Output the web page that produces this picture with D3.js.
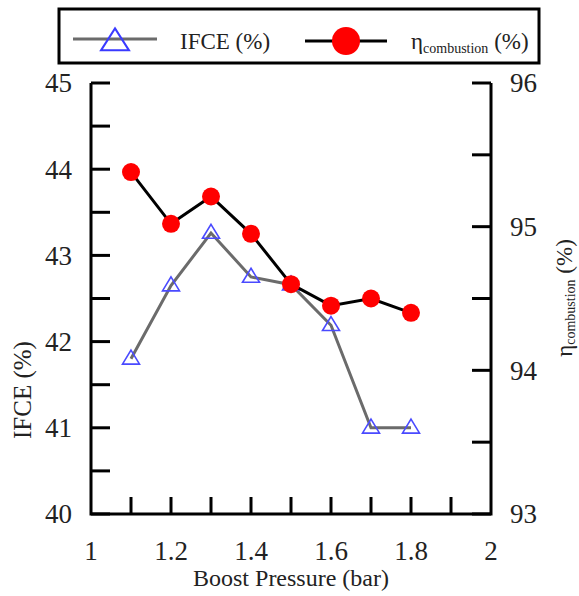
<!DOCTYPE html>
<html>
<head>
<meta charset="utf-8">
<script src="https://cdn.jsdelivr.net/npm/d3@7"></script>
<style>
  html, body { margin: 0; padding: 0; background: #fff; }
  svg, svg text { font-family: "Times New Roman", "Liberation Serif", "DejaVu Serif", serif; }
</style>
</head>
<body>
<svg id="chart" width="579" height="596"></svg>
<script>
// Boost pressure sweep (bar)
const boostPressure = [1.1, 1.2, 1.3, 1.4, 1.5, 1.6, 1.7, 1.8];
// Indicated fuel conversion efficiency (%), left axis
const ifce = [41.8, 42.65, 43.26, 42.75, 42.66, 42.19, 41.0, 41.0];
// Combustion efficiency (%), right axis
const etaCombustion = [95.38, 95.02, 95.21, 94.95, 94.6, 94.45, 94.5, 94.4];

const xTickLabels = [1, 1.2, 1.4, 1.6, 1.8, 2];
const xMinorTicks = [1.1, 1.2, 1.3, 1.4, 1.5, 1.6, 1.7, 1.8, 1.9];
const leftTicks = [40, 40.5, 41, 41.5, 42, 42.5, 43, 43.5, 44, 44.5, 45];
const leftLabels = [40, 41, 42, 43, 44, 45];
const rightTicks = [93, 93.5, 94, 94.5, 95, 95.5, 96];
const rightLabels = [93, 94, 95, 96];

const FONT = "'Liberation Serif', 'Times New Roman', serif";
const svg = d3.select("#chart").attr("font-family", FONT);
const plotLeft = 91, plotRight = 491, plotTop = 83, plotBottom = 514;

const x = d3.scaleLinear().domain([1, 2]).range([plotLeft, plotRight]);
const yL = d3.scaleLinear().domain([40, 45]).range([plotBottom, plotTop]);
const yR = d3.scaleLinear().domain([93, 96]).range([plotBottom, plotTop]);

// Axes frame: left, bottom, right (no top line)
svg.append("path")
  .attr("d", `M${plotLeft},${plotTop}V${plotBottom}H${plotRight}V${plotTop}`)
  .attr("fill", "none").attr("stroke", "#000").attr("stroke-width", 3)
  .attr("stroke-linejoin", "miter");

// Left axis ticks (inward) and labels
svg.append("g").selectAll("line").data(leftTicks).join("line")
  .attr("x1", plotLeft).attr("x2", plotLeft + 19)
  .attr("y1", d => yL(d)).attr("y2", d => yL(d))
  .attr("stroke", "#000").attr("stroke-width", 3);
svg.append("g").selectAll("text").data(leftLabels).join("text")
  .attr("font-family", FONT)
  .attr("x", 72).attr("y", d => yL(d))
  .attr("dy", "0.35em").attr("text-anchor", "end")
  .attr("font-size", 27).attr("fill", "#222")
  .text(d => d);

// Right axis ticks (inward) and labels
svg.append("g").selectAll("line").data(rightTicks).join("line")
  .attr("x1", plotRight - 19).attr("x2", plotRight)
  .attr("y1", d => yR(d)).attr("y2", d => yR(d))
  .attr("stroke", "#000").attr("stroke-width", 3);
svg.append("g").selectAll("text").data(rightLabels).join("text")
  .attr("font-family", FONT)
  .attr("x", 510).attr("y", d => yR(d))
  .attr("dy", "0.35em").attr("text-anchor", "start")
  .attr("font-size", 27).attr("fill", "#222")
  .text(d => d);

// Bottom axis ticks (inward) and labels
svg.append("g").selectAll("line").data(xMinorTicks).join("line")
  .attr("x1", d => x(d)).attr("x2", d => x(d))
  .attr("y1", plotBottom).attr("y2", plotBottom - 17)
  .attr("stroke", "#000").attr("stroke-width", 3);
svg.append("g").selectAll("text").data(xTickLabels).join("text")
  .attr("font-family", FONT)
  .attr("x", d => x(d)).attr("y", 560)
  .attr("text-anchor", "middle")
  .attr("font-size", 27).attr("fill", "#222")
  .text(d => d);

// Axis titles
svg.append("text")
  .attr("font-family", FONT)
  .attr("x", 291).attr("y", 586).attr("text-anchor", "middle")
  .attr("font-size", 24).attr("fill", "#222")
  .text("Boost Pressure (bar)");

svg.append("text")
  .attr("font-family", FONT)
  .attr("transform", "translate(31,390) rotate(-90)")
  .attr("text-anchor", "middle")
  .attr("font-size", 25).attr("fill", "#222")
  .text("IFCE (%)");

const rTitle = svg.append("text")
  .attr("font-family", FONT)
  .attr("transform", "translate(572,298) rotate(-90)")
  .attr("text-anchor", "middle")
  .attr("font-size", 23).attr("fill", "#222");
rTitle.append("tspan").text("η");
rTitle.append("tspan").attr("font-size", 14).attr("dy", 3).text("combustion");
rTitle.append("tspan").attr("dy", -3).text(" (%)");

// IFCE series
svg.append("path")
  .datum(boostPressure.map((b, i) => [b, ifce[i]]))
  .attr("d", d3.line().x(d => x(d[0])).y(d => yL(d[1])))
  .attr("fill", "none").attr("stroke", "#6b6b6b").attr("stroke-width", 3);

const tri = (cx, cy, w, h) =>
  `M${cx},${cy - h * 0.62}L${cx + w / 2},${cy + h * 0.38}L${cx - w / 2},${cy + h * 0.38}Z`;

svg.append("g").selectAll("path").data(boostPressure).join("path")
  .attr("d", (d, i) => tri(x(d), yL(ifce[i]), 17, 14))
  .attr("fill", "none").attr("stroke", "#4a4aff").attr("stroke-width", 1.6);

// Combustion efficiency series
svg.append("path")
  .datum(boostPressure.map((b, i) => [b, etaCombustion[i]]))
  .attr("d", d3.line().x(d => x(d[0])).y(d => yR(d[1])))
  .attr("fill", "none").attr("stroke", "#000").attr("stroke-width", 3);

svg.append("g").selectAll("circle").data(boostPressure).join("circle")
  .attr("cx", d => x(d)).attr("cy", (d, i) => yR(etaCombustion[i]))
  .attr("r", 9).attr("fill", "#ff0000");

// Legend
const lg = svg.append("g");
lg.append("rect")
  .attr("x", 59).attr("y", 9).attr("width", 480).attr("height", 54)
  .attr("fill", "#fff").attr("stroke", "#000").attr("stroke-width", 3);
lg.append("line").attr("x1", 73).attr("x2", 157).attr("y1", 39).attr("y2", 39)
  .attr("stroke", "#6b6b6b").attr("stroke-width", 3);
lg.append("path").attr("d", tri(115, 42, 28, 22))
  .attr("fill", "none").attr("stroke", "#3a3aff").attr("stroke-width", 2);
lg.append("text").attr("font-family", FONT).attr("x", 180).attr("y", 49)
  .attr("font-size", 23).attr("fill", "#222").text("IFCE (%)");
lg.append("line").attr("x1", 305).attr("x2", 387).attr("y1", 41).attr("y2", 41)
  .attr("stroke", "#000").attr("stroke-width", 3);
lg.append("circle").attr("cx", 346).attr("cy", 41).attr("r", 14).attr("fill", "#ff0000");
const lt = lg.append("text").attr("font-family", FONT).attr("x", 411).attr("y", 49)
  .attr("font-size", 23).attr("fill", "#222");
lt.append("tspan").text("η");
lt.append("tspan").attr("font-size", 14).attr("dy", 4).text("combustion");
lt.append("tspan").attr("dy", -4).text(" (%)");
</script>
</body>
</html>
